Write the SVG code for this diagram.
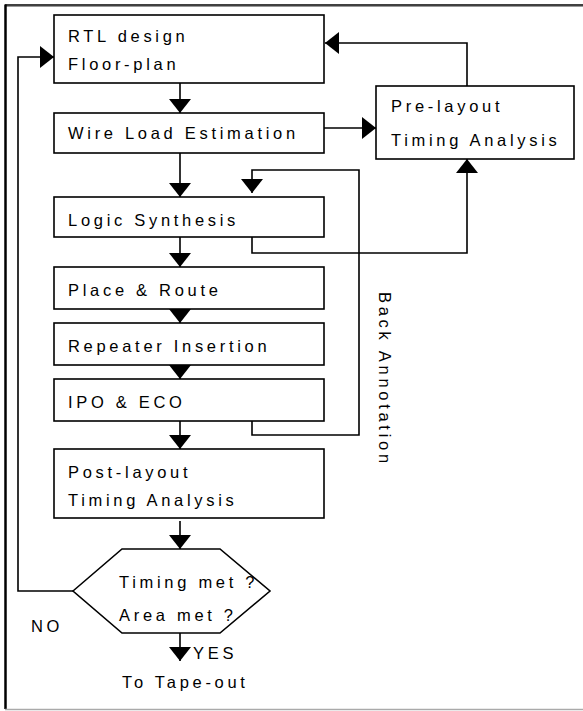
<svg xmlns="http://www.w3.org/2000/svg" width="583" height="711" viewBox="0 0 583 711">
<style>
.box{fill:#fff;stroke:#000;stroke-width:1.6}
.t{font-family:"Liberation Sans",Arial,sans-serif;font-size:16.5px;letter-spacing:3.7px;fill:#000}
.c{fill:none;stroke:#000;stroke-width:1.6}
</style>
<defs>
<marker id="ah" viewBox="0 0 14 22" refX="14" refY="11" markerWidth="14" markerHeight="22" markerUnits="userSpaceOnUse" orient="auto">
<path d="M0,0 L14,11 L0,22 z" fill="#000"/>
</marker>
</defs>
<rect width="583" height="711" fill="#fff"/>
<g id="frame">
<line x1="5" y1="5" x2="583" y2="5" stroke="#000" stroke-width="1.6"/>
<line x1="5" y1="6.5" x2="583" y2="6.5" stroke="#999" stroke-width="1"/>
<line x1="5.5" y1="4.5" x2="5.5" y2="709" stroke="#000" stroke-width="2.5"/>
<line x1="5" y1="709.5" x2="583" y2="709.5" stroke="#aaa" stroke-width="1.5"/>
</g>
<g id="connectors">
<path class="c" d="M180,83 V113" marker-end="url(#ah)"/>
<path class="c" d="M180,153 V197" marker-end="url(#ah)"/>
<path class="c" d="M180,237 V267" marker-end="url(#ah)"/>
<path class="c" d="M180,309 V323" marker-end="url(#ah)"/>
<path class="c" d="M180,365 V379" marker-end="url(#ah)"/>
<path class="c" d="M180,421 V449" marker-end="url(#ah)"/>
<path class="c" d="M180,521 V549" marker-end="url(#ah)"/>
<path class="c" d="M180,633 V661" marker-end="url(#ah)"/>
<path class="c" d="M73,591 H18 V57 H54" marker-end="url(#ah)"/>
<path class="c" d="M324,128 H376" marker-end="url(#ah)"/>
<path class="c" d="M467,86 V43 H325" marker-end="url(#ah)"/>
<path class="c" d="M252,237 V253 H467 V159" marker-end="url(#ah)"/>
<path class="c" d="M252,413 V435 H359 V170 H252 V193" marker-end="url(#ah)"/>
</g>
<g id="rtl">
<rect class="box" x="54" y="15" width="270" height="68"/>
<text class="t" x="68" y="42">RTL design</text>
<text class="t" x="68" y="70">Floor-plan</text>
</g>
<g id="wire">
<rect class="box" x="54" y="113" width="270" height="40"/>
<text class="t" x="68" y="139">Wire Load Estimation</text>
</g>
<g id="pre">
<rect class="box" x="376" y="86" width="198" height="73"/>
<text class="t" x="391" y="112">Pre-layout</text>
<text class="t" x="391" y="146">Timing Analysis</text>
</g>
<g id="logic">
<rect class="box" x="54" y="197" width="270" height="40"/>
<text class="t" x="68" y="226">Logic Synthesis</text>
</g>
<g id="place">
<rect class="box" x="54" y="267" width="270" height="42"/>
<text class="t" x="68" y="296">Place &amp; Route</text>
</g>
<g id="repeater">
<rect class="box" x="54" y="323" width="270" height="42"/>
<text class="t" x="68" y="352">Repeater Insertion</text>
</g>
<g id="ipo">
<rect class="box" x="54" y="379" width="270" height="42"/>
<text class="t" x="68" y="408">IPO &amp; ECO</text>
</g>
<g id="post">
<rect class="box" x="54" y="449" width="270" height="69"/>
<text class="t" x="68" y="478">Post-layout</text>
<text class="t" x="68" y="506">Timing Analysis</text>
</g>
<g id="decision">
<polygon class="box" points="73,591 122,549 220,549 270,591 220,633 122,633"/>
<text class="t" x="119" y="588">Timing met ?</text>
<text class="t" x="119" y="621">Area met ?</text>
</g>
<g id="labels">
<text class="t" x="31" y="632">NO</text>
<text class="t" x="193" y="659">YES</text>
<text class="t" x="122" y="688">To Tape-out</text>
<text class="t" transform="translate(379,292) rotate(90)" x="0" y="0">Back Annotation</text>
</g>
</svg>
